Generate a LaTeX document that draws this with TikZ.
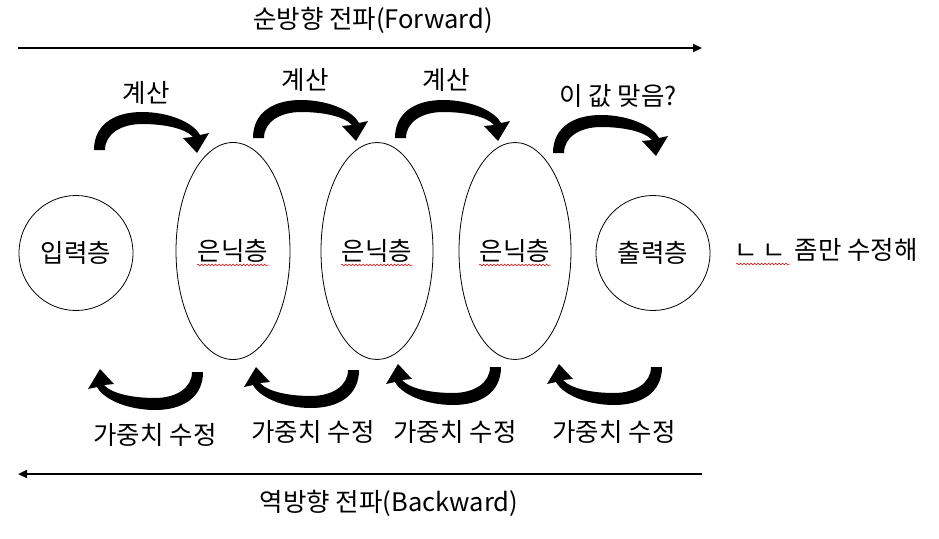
\documentclass[tikz,border=0pt]{standalone}
\usepackage{fontspec}
\setmainfont{Noto Sans CJK KR}
\usetikzlibrary{arrows.meta,decorations.pathmorphing,shapes.geometric}
\tikzset{
  lbl/.style={font=\fontsize{25.5}{30}\selectfont, inner sep=0pt},
  layer/.style={draw, line width=0.8pt, ellipse, inner sep=0pt, font=\fontsize{25.5}{30}\selectfont},
  flow/.style={line width=2.2pt, -{Triangle[length=9pt,width=8pt]}},
  squig/.style={draw=red!85!black, line width=0.5pt, decorate,
    decoration={snake, amplitude=0.9pt, segment length=3.5pt}},
  pics/curvarrow/.style={code={
    \fill[black] (-57,18) .. controls (-57,-8) and (-36,-20) .. (-9,-20)
      .. controls (17,-20) and (42,-10) .. (49,3)
      -- (58,1) -- (46,21) -- (32,6) -- (42,5)
      .. controls (34,-4) and (12,-8) .. (-9,-8)
      .. controls (-30,-8) and (-46,2) .. (-46,18) -- cycle;
  }}
}
\begin{document}
\begin{tikzpicture}[x=1pt,y=-1pt]
\useasboundingbox (0,0) rectangle (939,538);

% titles and main arrows
\node[lbl] (fwd) at (373,20) {순방향 전파(Forward)};
\coordinate (fs) at (18,48);
\coordinate (fe) at (702,48);
\draw[flow] (fs) -- (fe);

\node[lbl] (bwd) at (389,503) {역방향 전파(Backward)};
\coordinate (bs) at (702,474);
\coordinate (be) at (18,474);
\draw[flow] (bs) -- (be);

% layers
\node[layer, minimum width=114pt, minimum height=115pt] (in) at (76,253) {입력층};
\node[layer, minimum width=114pt, minimum height=217pt] (h1) at (233,251) {은닉층};
\node[layer, minimum width=112pt, minimum height=217pt] (h2) at (377,251) {은닉층};
\node[layer, minimum width=112pt, minimum height=217pt] (h3) at (515,251) {은닉층};
\node[layer, minimum width=114pt, minimum height=115pt] (out) at (653,253) {출력층};

\draw[squig] ([shift={(-36,14)}]h1.center) -- ([shift={(36,14)}]h1.center);
\draw[squig] ([shift={(-36,14)}]h2.center) -- ([shift={(36,14)}]h2.center);
\draw[squig] ([shift={(-36,14)}]h3.center) -- ([shift={(36,14)}]h3.center);

\node[lbl, anchor=west] (note) at (734,250) {ㄴ\hspace{5pt}ㄴ\hspace{3pt} 좀만 수정해};
\draw[squig] ([shift={(2,14)}]note.west) -- ([shift={(56,14)}]note.west);

% forward curved arrows
\pic at (151,132) {curvarrow};
\pic at (310,120) {curvarrow};
\pic at (452,120) {curvarrow};
\pic at (610,135) {curvarrow};
\node[lbl] (c1) at (146,93) {계산};
\node[lbl] (c2) at (305,80) {계산};
\node[lbl] (c3) at (446,80) {계산};
\node[lbl] (c4) at (618,96) {이 값 맞음?};

% backward curved arrows
\pic[rotate=180] at (146,390) {curvarrow};
\pic[rotate=180] at (302,388) {curvarrow};
\pic[rotate=180] at (444,385) {curvarrow};
\pic[rotate=180] at (605,385) {curvarrow};
\node[lbl] (w1) at (155,435) {가중치 수정};
\node[lbl] (w2) at (313,432) {가중치 수정};
\node[lbl] (w3) at (455,432) {가중치 수정};
\node[lbl] (w4) at (614,432) {가중치 수정};
\end{tikzpicture}
\end{document}
